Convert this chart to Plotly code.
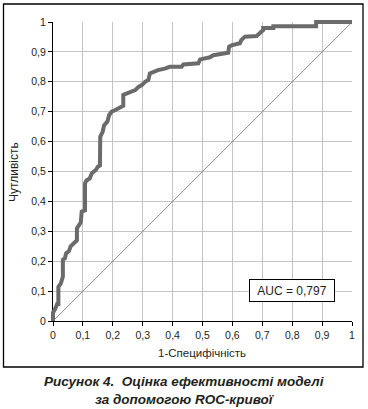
import plotly.graph_objects as go

# ROC curve points
fpr = [0, 0, 0.007, 0.014, 0.018, 0.018, 0.026, 0.031, 0.033, 0.033, 0.04, 0.044, 0.053,
       0.059, 0.066, 0.073, 0.08, 0.08, 0.087, 0.093, 0.096, 0.104, 0.107, 0.107, 0.112,
       0.123, 0.13, 0.143, 0.15, 0.157, 0.157, 0.158, 0.166, 0.171, 0.176, 0.182, 0.188,
       0.196, 0.207, 0.218, 0.229, 0.235, 0.235, 0.247, 0.264, 0.275, 0.286, 0.297, 0.308,
       0.319, 0.324, 0.335, 0.351, 0.374, 0.39, 0.43, 0.436, 0.486, 0.492, 0.525, 0.536,
       0.586, 0.589, 0.597, 0.625, 0.63, 0.642, 0.681, 0.692, 0.703, 0.703, 0.737, 0.737,
       0.88, 0.88, 1.0]
tpr = [0, 0.028, 0.04, 0.057, 0.057, 0.114, 0.125, 0.148, 0.148, 0.205, 0.21, 0.227, 0.233,
       0.25, 0.256, 0.262, 0.27, 0.31, 0.32, 0.33, 0.366, 0.37, 0.37, 0.46, 0.47,
       0.477, 0.494, 0.505, 0.516, 0.52, 0.572, 0.616, 0.633, 0.655, 0.66, 0.667, 0.689,
       0.7, 0.705, 0.711, 0.717, 0.72, 0.756, 0.761, 0.766, 0.772, 0.783, 0.789, 0.8,
       0.806, 0.828, 0.833, 0.839, 0.844, 0.85, 0.85, 0.858, 0.862, 0.875, 0.882, 0.889,
       0.897, 0.917, 0.922, 0.929, 0.94, 0.951, 0.953, 0.962, 0.973, 0.98, 0.98, 0.986,
       0.986, 1.0, 1.0]

diag_x = [0, 1]
diag_y = [0, 1]

tick_vals = [0, 0.1, 0.2, 0.3, 0.4, 0.5, 0.6, 0.7, 0.8, 0.9, 1]
tick_text = ["0", "0,1", "0,2", "0,3", "0,4", "0,5", "0,6", "0,7", "0,8", "0,9", "1"]

auc_text = "AUC = 0,797"
x_title = "1-Специфічність"
y_title = "Чутливість"
caption = ("<b><i>Рисунок 4.\u00a0\u00a0Оцінка ефективності моделі</i></b><br>"
           "<b><i>за допомогою ROC-кривої</i></b>")

FONT = "Liberation Sans, Arial, sans-serif"
TXT = "#231f20"

# layout geometry (pixels)
W, H = 368, 409
L, R, T, B = 50, 13, 19, 85
PW = W - L - R  # 305
PH = H - T - B  # 305
PAD = 3

def px_to_paper_x(px):
    return (px - L) / PW

def py_to_paper_y(py):
    return (H - B - py) / PH

fig = go.Figure()

fig.add_trace(go.Scatter(x=diag_x, y=diag_y, mode="lines",
                         line=dict(color="#858585", width=0.9),
                         xaxis="x2", yaxis="y2", hoverinfo="skip", showlegend=False))
fig.add_trace(go.Scatter(x=fpr, y=tpr, mode="lines",
                         line=dict(color="#6b6b6b", width=4),
                         xaxis="x2", yaxis="y2", showlegend=False))
# invisible trace to keep the main axes active
fig.add_trace(go.Scatter(x=[0, 1], y=[0, 1], mode="markers", marker=dict(opacity=0),
                         xaxis="x", yaxis="y", hoverinfo="skip", showlegend=False))

dom = [PAD / PW, (PW - PAD) / PW]
ext = PAD / (PW - 2 * PAD)

axis_common = dict(
    range=[0, 1], tickvals=tick_vals, ticktext=tick_text,
    showgrid=True, gridcolor="#c4c4c4", gridwidth=1,
    zeroline=False, showline=True, linecolor="#000000", linewidth=1,
    ticks="outside", ticklen=4, tickcolor="#000000", tickwidth=1,
    tickfont=dict(family=FONT, size=10.5, color=TXT),
    fixedrange=True, automargin=False,
)

fig.update_layout(
    template="none",
    width=W, height=H, autosize=False,
    margin=dict(l=L, r=R, t=T, b=B, pad=0, autoexpand=False),
    paper_bgcolor="white", plot_bgcolor="rgba(0,0,0,0)",
    xaxis=dict(domain=dom, anchor="y", **axis_common),
    yaxis=dict(domain=dom, anchor="x", **axis_common),
    xaxis2=dict(domain=[0, 1], range=[-ext, 1 + ext], visible=False, anchor="y2",
                fixedrange=True, automargin=False),
    yaxis2=dict(domain=[0, 1], range=[-ext, 1 + ext], visible=False, anchor="x2",
                fixedrange=True, automargin=False),
    showlegend=False,
)

fig.add_annotation(x=0.798, y=0.102, xref="x", yref="y", text=auc_text,
                   showarrow=False, font=dict(family=FONT, size=12, color=TXT),
                   bordercolor="#000000", borderwidth=1, borderpad=0,
                   bgcolor="white", width=84, height=21,
                   xanchor="center", yanchor="middle")

fig.add_annotation(x=px_to_paper_x(202), y=py_to_paper_y(353), xref="paper", yref="paper",
                   text=x_title, showarrow=False, xanchor="center", yanchor="middle",
                   font=dict(family=FONT, size=11.5, color=TXT))
fig.add_annotation(x=px_to_paper_x(14), y=py_to_paper_y(172), xref="paper", yref="paper",
                   text=y_title, showarrow=False, textangle=-90,
                   xanchor="center", yanchor="middle",
                   font=dict(family=FONT, size=12, color=TXT))
fig.add_annotation(x=px_to_paper_x(184), y=py_to_paper_y(390.5), xref="paper", yref="paper",
                   text=caption, showarrow=False, xanchor="center", yanchor="middle",
                   font=dict(family=FONT, size=13.5, color=TXT))

fig.add_shape(type="rect", xref="paper", yref="paper",
              x0=px_to_paper_x(3.5), x1=px_to_paper_x(363), y0=py_to_paper_y(367),
              y1=py_to_paper_y(4), line=dict(color="#000000", width=1.3))

fig.write_html("out.html",
               config={"displayModeBar": False, "staticPlot": True},
               post_script="document.body.style.margin='0';document.body.style.padding='0';")
